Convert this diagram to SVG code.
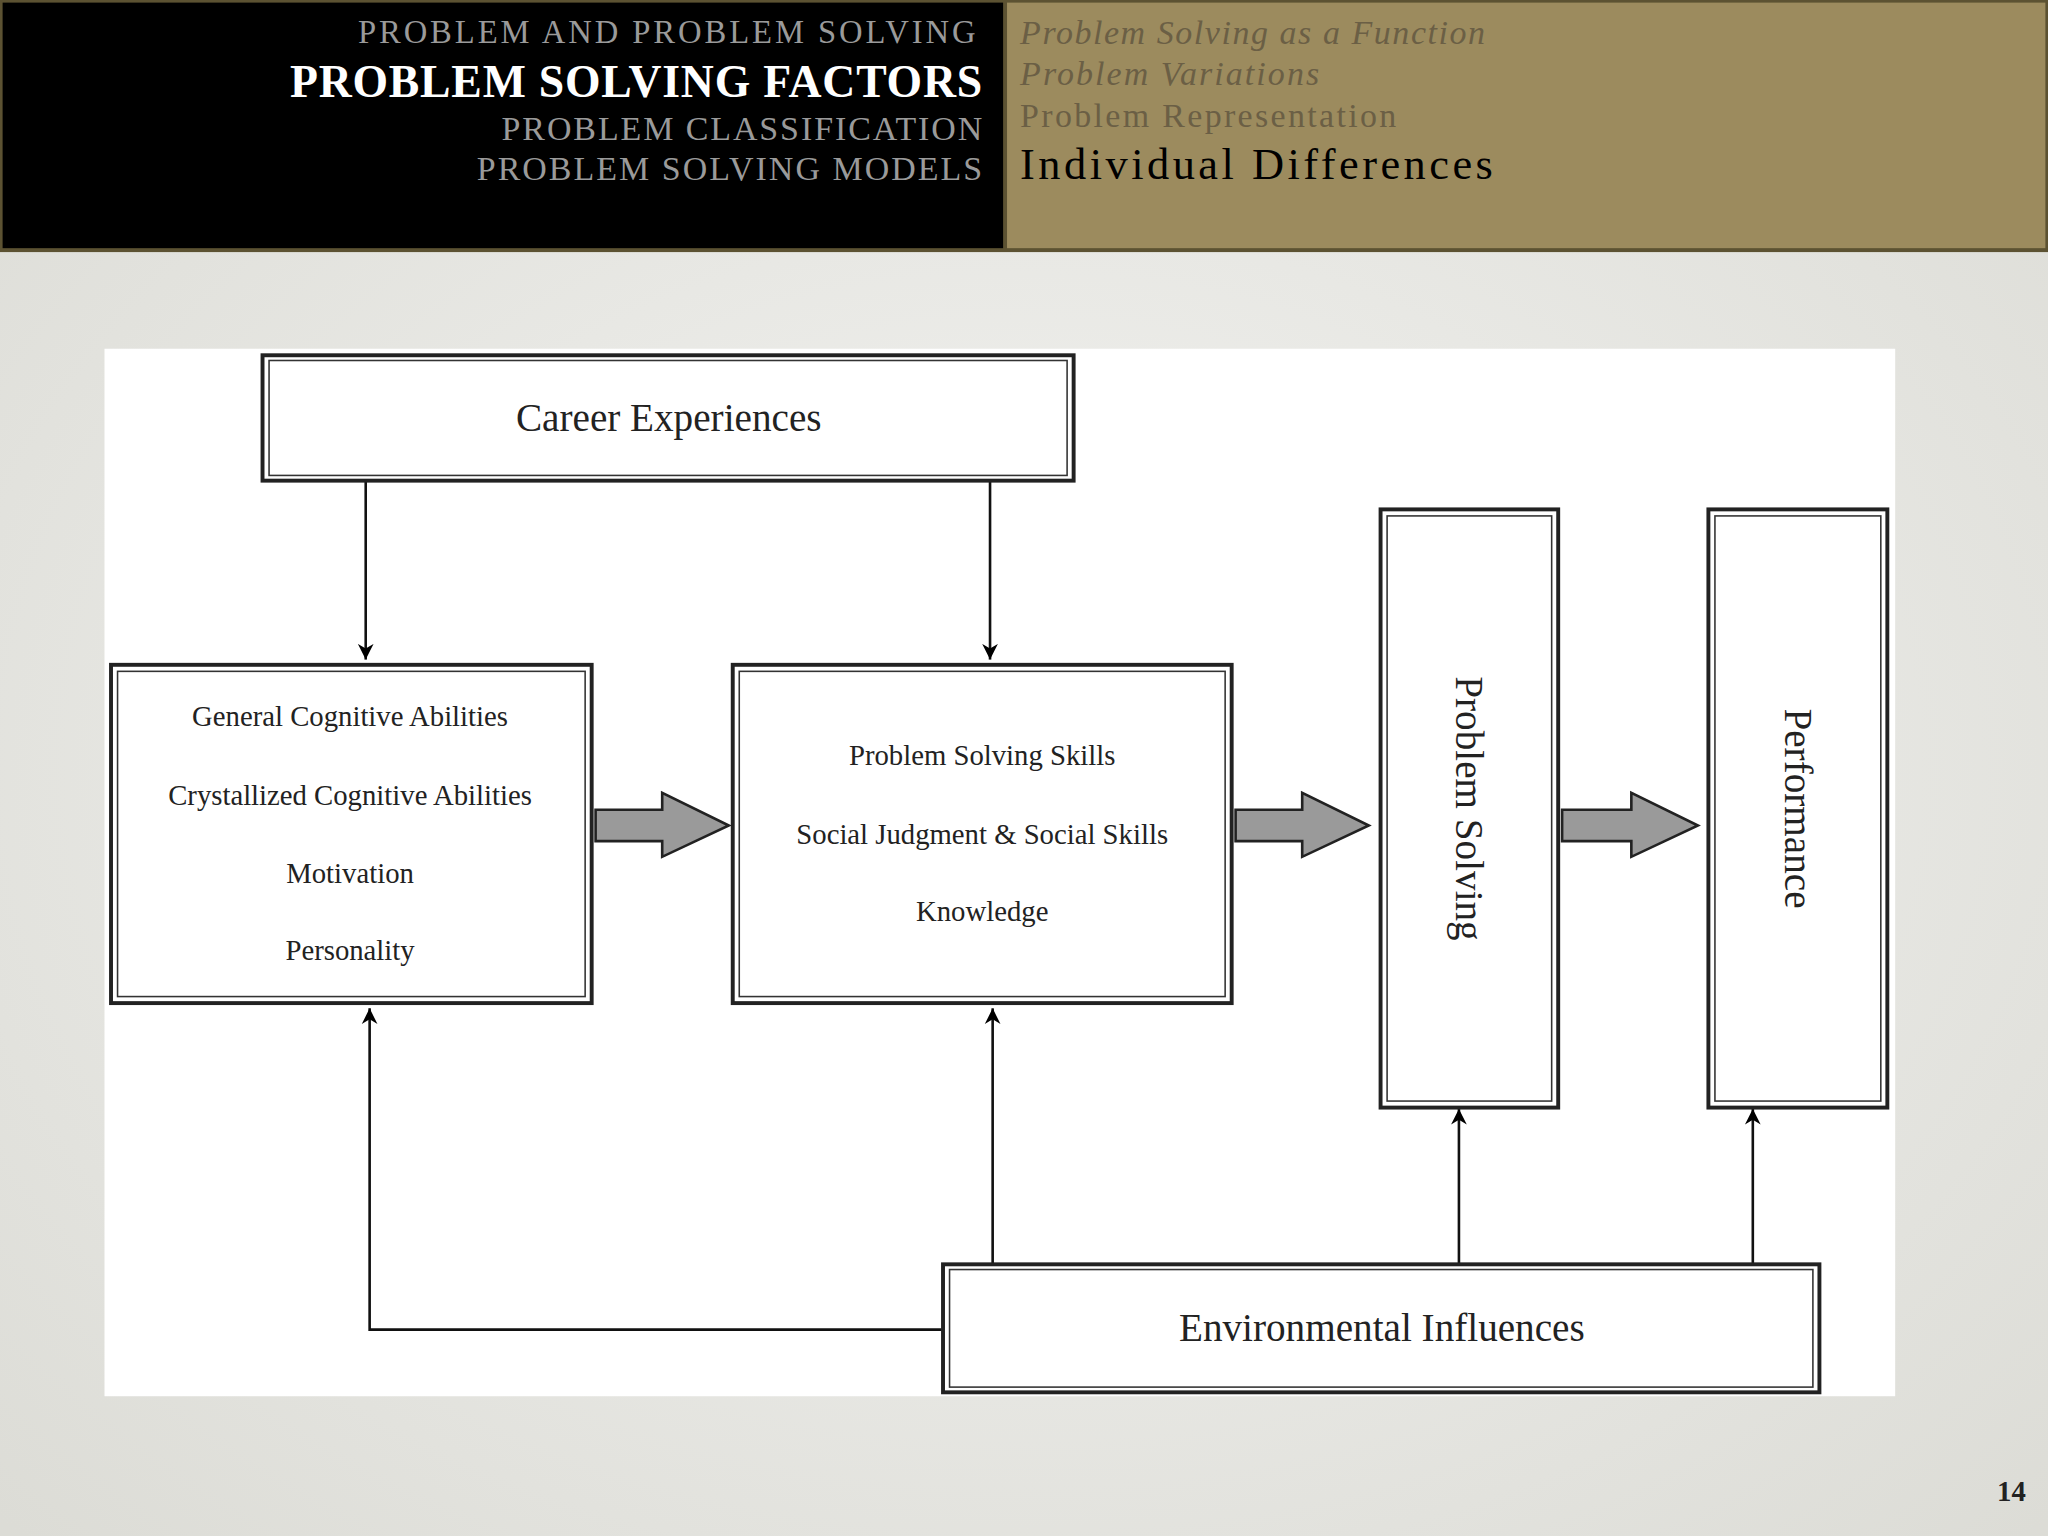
<svg xmlns="http://www.w3.org/2000/svg" width="2048" height="1536" viewBox="0 0 2048 1536">
<defs>
<radialGradient id="bg" cx="0.5" cy="0.5" r="0.7"><stop offset="0" stop-color="#f4f4f2"/><stop offset="1" stop-color="#dcdcd6"/></radialGradient>
<marker id="ah" viewBox="0 0 10 10" refX="10" refY="5" markerWidth="12" markerHeight="18" markerUnits="userSpaceOnUse" orient="auto"><path d="M0,0 L10,5 L0,10 L3,5 Z" fill="#000"/></marker>
</defs>
<style>
.h{font-family:"Liberation Serif","DejaVu Serif",serif;text-anchor:end}
.s{font-family:"Liberation Serif","DejaVu Serif",serif}
.d{font-family:"Liberation Serif","DejaVu Serif",serif;fill:#222;text-anchor:middle}
.box{fill:#fff;stroke:#222;stroke-width:3}
.inner{fill:none;stroke:#333;stroke-width:1.2}
.ln{stroke:#111;stroke-width:2;fill:none;marker-end:url(#ah)}
.blk{fill:#9a9a9a;stroke:#222;stroke-width:2}
</style>
<g transform="scale(1.30612)">
<rect x="0" y="0" width="1568" height="1176" fill="url(#bg)"/>
<g id="header">
<rect x="0" y="0" width="1568" height="193" fill="#5c5232"/>
<rect x="2" y="2" width="766" height="188" fill="#000"/>
<rect x="771" y="2" width="795" height="188" fill="#9c8b5e"/>
<text class="h" x="747" y="33" font-size="25" fill="#9a9a9a" textLength="473">PROBLEM AND PROBLEM SOLVING</text>
<text class="h" x="752" y="74" font-size="35" font-weight="bold" fill="#fff" textLength="530">PROBLEM SOLVING FACTORS</text>
<text class="h" x="752" y="107" font-size="26" fill="#9a9a9a" textLength="368">PROBLEM CLASSIFICATION</text>
<text class="h" x="752" y="138" font-size="26" fill="#9a9a9a" textLength="387">PROBLEM SOLVING MODELS</text>
<text class="s" x="781" y="34" font-size="26" font-style="italic" fill="#6b5f45" textLength="356">Problem Solving as a Function</text>
<text class="s" x="781" y="65" font-size="26" font-style="italic" fill="#6b5f45" textLength="229">Problem Variations</text>
<text class="s" x="781" y="97" font-size="26" fill="#6b5f45" textLength="288">Problem Representation</text>
<text class="s" x="781" y="137" font-size="34" fill="#000" textLength="362">Individual Differences</text>
</g>
<rect x="80" y="267" width="1371" height="802" fill="#fff"/>
<g id="connectors">
<line class="ln" x1="280" y1="369" x2="280" y2="505"/>
<line class="ln" x1="758" y1="369" x2="758" y2="505"/>
<polyline class="ln" points="721,1018 283,1018 283,772"/>
<line class="ln" x1="760" y1="967" x2="760" y2="772"/>
<line class="ln" x1="1117" y1="967" x2="1117" y2="849"/>
<line class="ln" x1="1342" y1="967" x2="1342" y2="849"/>
<path class="blk" d="M456,620 H507 V607 L558,632 L507,656 V644 H456 Z"/>
<path class="blk" d="M946,620 H997 V607 L1048,632 L997,656 V644 H946 Z"/>
<path class="blk" d="M1196,620 H1249 V607 L1300,632 L1249,656 V644 H1196 Z"/>
</g>
<g id="career"><rect class="box" x="201" y="272" width="621" height="96"/><rect class="inner" x="206" y="276" width="611" height="88"/><text class="d" x="512" y="330" font-size="30">Career Experiences</text></g>
<g id="abilities"><rect class="box" x="85" y="509" width="368" height="259"/><rect class="inner" x="90" y="514" width="358" height="249"/>
<text class="d" x="268" y="556" font-size="22">General Cognitive Abilities</text>
<text class="d" x="268" y="616" font-size="22">Crystallized Cognitive Abilities</text>
<text class="d" x="268" y="676" font-size="22">Motivation</text>
<text class="d" x="268" y="735" font-size="22">Personality</text></g>
<g id="skills"><rect class="box" x="561" y="509" width="382" height="259"/><rect class="inner" x="566" y="514" width="372" height="249"/>
<text class="d" x="752" y="586" font-size="22">Problem Solving Skills</text>
<text class="d" x="752" y="646" font-size="22">Social Judgment &amp; Social Skills</text>
<text class="d" x="752" y="705" font-size="22">Knowledge</text></g>
<g id="problemsolving"><rect class="box" x="1057" y="390" width="136" height="458"/><rect class="inner" x="1062" y="395" width="126" height="448"/>
<text class="d" x="0" y="0" font-size="30" transform="translate(1115,619) rotate(90)">Problem Solving</text></g>
<g id="performance"><rect class="box" x="1308" y="390" width="137" height="458"/><rect class="inner" x="1313" y="395" width="127" height="448"/>
<text class="d" x="0" y="0" font-size="30" transform="translate(1367,619) rotate(90)">Performance</text></g>
<g id="environment"><rect class="box" x="722" y="968" width="671" height="98"/><rect class="inner" x="727" y="972" width="661" height="90"/><text class="d" x="1058" y="1027" font-size="30">Environmental Influences</text></g>
<text class="s" x="1551" y="1149" font-size="22" font-weight="bold" fill="#222" text-anchor="end">14</text>
</g>
</svg>
